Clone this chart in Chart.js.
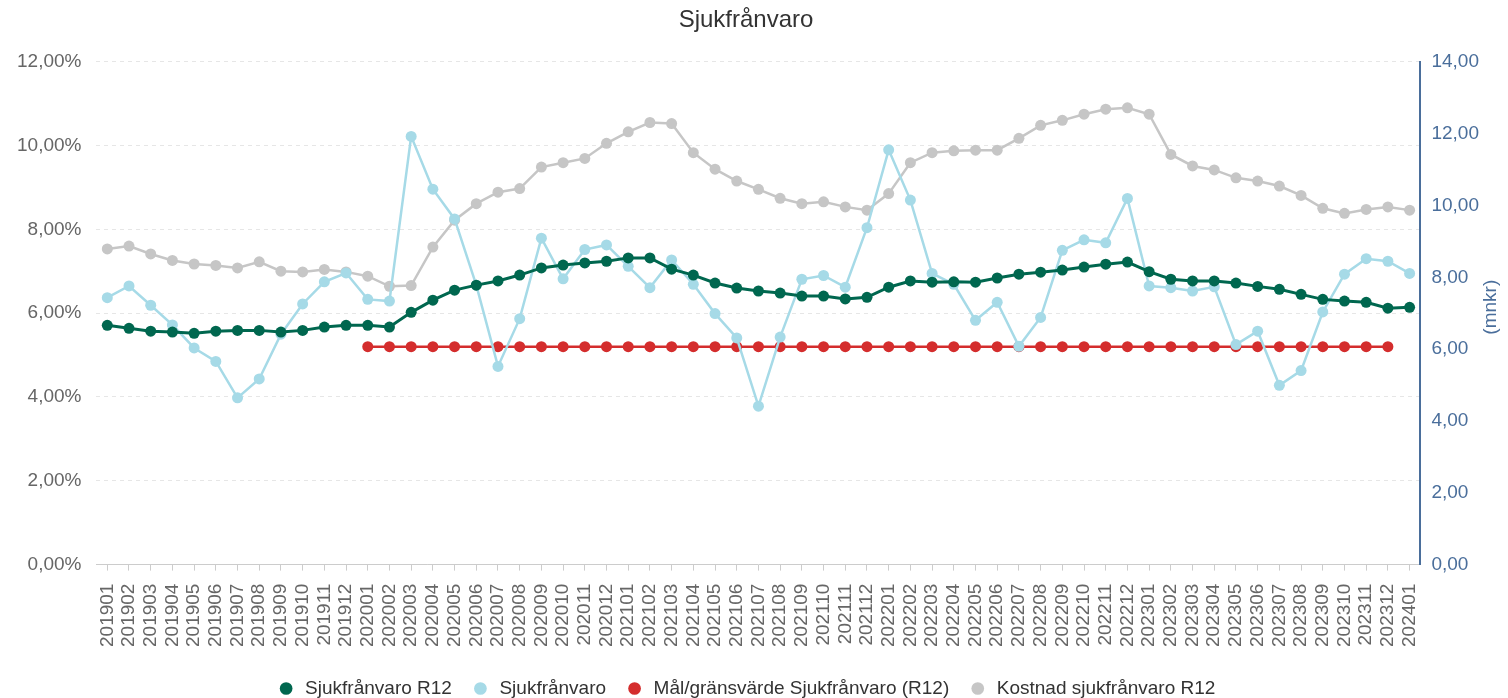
<!DOCTYPE html>
<html>
<head>
<meta charset="utf-8">
<script src="https://cdn.jsdelivr.net/npm/chart.js@4.4.1/dist/chart.umd.min.js"></script>
<style>
  body { margin: 0; background: #fff; }
  #wrap { width: 1508px; height: 698px; }
</style>
</head>
<body>
<div id="wrap"><canvas id="chart" width="1508" height="698"></canvas></div>
<script>
// months on the x axis
const months = [
  '201901','201902','201903','201904','201905','201906','201907','201908','201909','201910','201911','201912',
  '202001','202002','202003','202004','202005','202006','202007','202008','202009','202010','202011','202012',
  '202101','202102','202103','202104','202105','202106','202107','202108','202109','202110','202111','202112',
  '202201','202202','202203','202204','202205','202206','202207','202208','202209','202210','202211','202212',
  '202301','202302','202303','202304','202305','202306','202307','202308','202309','202310','202311','202312',
  '202401'
];

// Sjukfrånvaro R12 (%)
const sickR12 = [
  5.71, 5.64, 5.57, 5.55, 5.52, 5.57, 5.59, 5.59, 5.55, 5.59, 5.67, 5.71,
  5.71, 5.67, 6.02, 6.31, 6.55, 6.67, 6.77, 6.91, 7.08, 7.15, 7.20, 7.24,
  7.32, 7.32, 7.05, 6.91, 6.72, 6.60, 6.53, 6.48, 6.41, 6.41, 6.34, 6.38,
  6.62, 6.77, 6.74, 6.75, 6.74, 6.84, 6.93, 6.98, 7.03, 7.10, 7.17, 7.22,
  6.99, 6.81, 6.77, 6.77, 6.72, 6.64, 6.57, 6.45, 6.33, 6.29, 6.26, 6.12,
  6.14
];

// Sjukfrånvaro per månad (%)
const sickMonthly = [
  6.37, 6.65, 6.19, 5.72, 5.17, 4.85, 3.98, 4.43, 5.50, 6.22, 6.75, 6.96,
  6.33, 6.29, 10.22, 8.96, 8.25, 6.67, 4.73, 5.87, 7.79, 6.82, 7.52, 7.63,
  7.12, 6.61, 7.27, 6.69, 5.99, 5.41, 3.78, 5.43, 6.81, 6.90, 6.62, 8.04,
  9.90, 8.70, 6.95, 6.69, 5.83, 6.26, 5.21, 5.90, 7.50, 7.75, 7.68, 8.74,
  6.65, 6.61, 6.53, 6.63, 5.25, 5.57, 4.28, 4.63, 6.03, 6.93, 7.30, 7.24,
  6.95
];

// Mål/gränsvärde (%)
const target = [
  null, null, null, null, null, null, null, null, null, null, null, null,
  5.2, 5.2, 5.2, 5.2, 5.2, 5.2, 5.2, 5.2, 5.2, 5.2, 5.2, 5.2,
  5.2, 5.2, 5.2, 5.2, 5.2, 5.2, 5.2, 5.2, 5.2, 5.2, 5.2, 5.2,
  5.2, 5.2, 5.2, 5.2, 5.2, 5.2, 5.2, 5.2, 5.2, 5.2, 5.2, 5.2,
  5.2, 5.2, 5.2, 5.2, 5.2, 5.2, 5.2, 5.2, 5.2, 5.2, 5.2, 5.2,
  null
];

// Kostnad sjukfrånvaro R12 (mnkr)
const costR12 = [
  8.79, 8.87, 8.65, 8.47, 8.37, 8.33, 8.26, 8.43, 8.17, 8.15, 8.22, 8.15,
  8.03, 7.75, 7.77, 8.84, 9.59, 10.05, 10.37, 10.47, 11.07, 11.19, 11.31, 11.73,
  12.05, 12.31, 12.28, 11.47, 11.01, 10.68, 10.45, 10.20, 10.05, 10.10, 9.96, 9.87,
  10.33, 11.19, 11.47, 11.52, 11.54, 11.54, 11.87, 12.23, 12.37, 12.54, 12.68, 12.72,
  12.54, 11.42, 11.10, 10.99, 10.77, 10.68, 10.54, 10.28, 9.92, 9.78, 9.89, 9.96,
  9.87
];

const FONT = '"Liberation Sans", Arial, sans-serif';
const axisBlue = '#4a6e9b';

function comma(v) {
  return v.toFixed(2).replace('.', ',');
}

function series(label, data, color, axis, width) {
  return {
    label: label,
    data: data,
    yAxisID: axis,
    borderColor: color,
    backgroundColor: color,
    pointBackgroundColor: color,
    pointBorderWidth: 0,
    pointRadius: 5.5,
    borderWidth: width,
    tension: 0,
    spanGaps: false
  };
}

// "(mnkr)" reads bottom-to-top in the original, so it is drawn by hand
const rightTitle = {
  id: 'rightTitle',
  afterDraw(chart) {
    const ctx = chart.ctx;
    const a = chart.chartArea;
    ctx.save();
    ctx.translate(chart.width - 17, (a.top + a.bottom) / 2 - 6);
    ctx.rotate(-Math.PI / 2);
    ctx.font = '19px ' + FONT;
    ctx.fillStyle = axisBlue;
    ctx.textAlign = 'center';
    ctx.textBaseline = 'middle';
    ctx.fillText('(mnkr)', 0, 0);
    ctx.restore();
  }
};

new Chart(document.getElementById('chart'), {
  type: 'line',
  data: {
    labels: months,
    datasets: [
      series('Sjukfrånvaro R12', sickR12, '#00674f', 'y', 3),
      series('Sjukfrånvaro', sickMonthly, '#a6dae7', 'y', 2.5),
      series('Mål/gränsvärde Sjukfrånvaro (R12)', target, '#d42d2d', 'y', 2.5),
      series('Kostnad sjukfrånvaro R12', costR12, '#c6c6c6', 'y1', 2.5)
    ]
  },
  options: {
    responsive: false,
    animation: false,
    layout: { padding: { left: 2, right: 18, top: 0, bottom: -10 } },
    plugins: {
      title: {
        display: true,
        text: 'Sjukfrånvaro',
        color: '#333',
        font: { family: FONT, size: 24, weight: 'normal' },
        padding: { top: 6, bottom: 27 }
      },
      legend: {
        position: 'bottom',
        labels: {
          usePointStyle: true,
          pointStyle: 'circle',
          boxWidth: 19,
          boxHeight: 9,
          padding: 19,
          color: '#333',
          font: { family: FONT, size: 19 }
        }
      },
      tooltip: { enabled: false }
    },
    scales: {
      x: {
        offset: true,
        grid: { drawOnChartArea: false, drawTicks: true, tickLength: 6, color: '#ccc' },
        border: { color: '#ccc', width: 1 },
        ticks: {
          autoSkip: false,
          minRotation: 90,
          maxRotation: 90,
          padding: 13,
          color: '#666',
          font: { family: FONT, size: 19 }
        }
      },
      y: {
        position: 'left',
        min: 0,
        max: 12,
        ticks: {
          stepSize: 2,
          padding: 15,
          color: '#666',
          font: { family: FONT, size: 19 },
          callback: v => comma(v) + '%'
        },
        grid: { color: '#e6e6e6', drawTicks: false },
        border: { display: false, dash: [4, 4] }
      },
      y1: {
        position: 'right',
        min: 0,
        max: 14,
        ticks: {
          stepSize: 2,
          padding: 11,
          color: axisBlue,
          font: { family: FONT, size: 19 },
          callback: v => comma(v)
        },
        grid: { drawOnChartArea: false, drawTicks: false },
        border: { color: axisBlue, width: 2 }
      }
    }
  },
  plugins: [rightTitle]
});
</script>
</body>
</html>
